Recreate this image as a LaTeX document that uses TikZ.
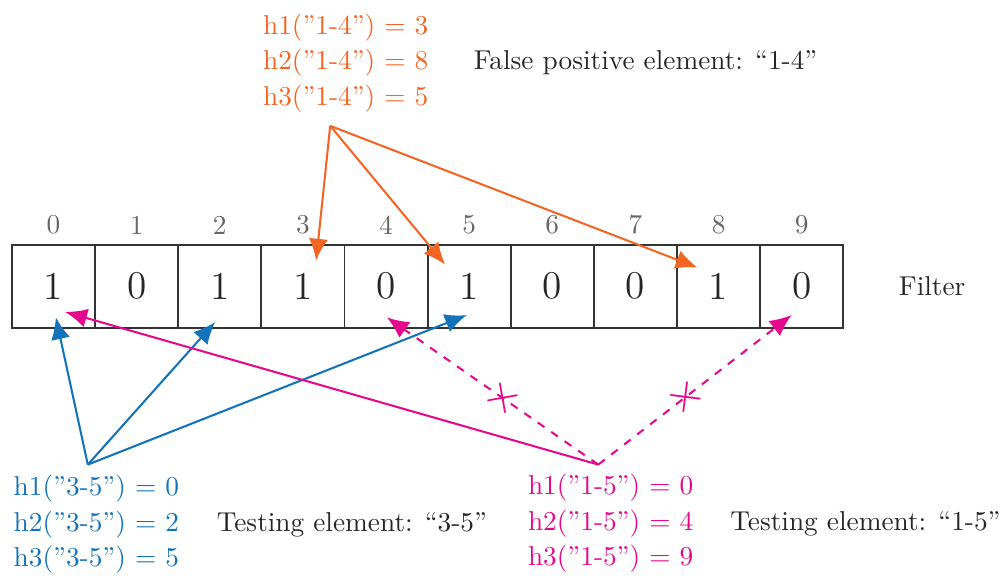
\documentclass[tikz,border=0pt]{standalone}
\usepackage{amsmath}
\usepackage{tikz}
\usetikzlibrary{calc,arrows.meta,positioning}

\definecolor{hashorange}{RGB}{242,101,34}
\definecolor{hashblue}{RGB}{18,114,186}
\definecolor{hashpink}{RGB}{230,8,140}

\begin{document}
\begin{tikzpicture}[
  cell/.style={draw=black!80, line width=0.7pt, minimum size=1.07cm, inner sep=0pt, font=\Large, text=black!85},
  index/.style={text=black!60},
  note/.style={text=black!85},
  hashes/.style={align=center},
  hasharrow/.style={-{Latex[length=8pt,width=7pt]}, line width=0.75pt},
  miss/.style={hasharrow, dashed}
]
\useasboundingbox (0,0) rectangle (12.91,7.41);

% the filter
\foreach \v [count=\i from 0] in {1,0,1,1,0,1,0,0,1,0} {
  \node[cell] (c\i) at (0.689+1.07*\i, 3.725) {\v};
  \node[index, above=0pt of c\i] (i\i) {\i};
}
\node[note, right=0.58cm of c9] (filter) {Filter};

% hash values
\node[hashes, text=hashorange] (h14) at (4.45,6.60)
  {h1(''1-4'') $=$ 3\\[1pt] h2(''1-4'') $=$ 8\\[1pt] h3(''1-4'') $=$ 5};
\node[note] (fp) at (8.31,6.60) {False positive element: ``1-4''};

\node[hashes, text=hashblue] (h35) at (1.24,0.66)
  {h1(''3-5'') $=$ 0\\[1pt] h2(''3-5'') $=$ 2\\[1pt] h3(''3-5'') $=$ 5};
\node[note] (t35) at (4.53,0.66) {Testing element: ``3-5''};

\node[hashes, text=hashpink] (h15) at (7.86,0.67)
  {h1(''1-5'') $=$ 0\\[1pt] h2(''1-5'') $=$ 4\\[1pt] h3(''1-5'') $=$ 9};
\node[note] (t15) at (11.14,0.67) {Testing element: ``1-5''};

% arrow ends
\coordinate (o) at (4.25,5.79);
\coordinate (b) at (1.13,1.43);
\coordinate (p) at (7.70,1.43);
\coordinate (o3) at ([shift={(0.17,0.33)}]c3.center);
\coordinate (o5) at ([shift={(-0.31,0.28)}]c5.center);
\coordinate (o8) at ([shift={(-0.27,0.24)}]c8.center);
\coordinate (b0) at ([shift={(0.03,-0.40)}]c0.center);
\coordinate (b2) at ([shift={(-0.06,-0.46)}]c2.center);
\coordinate (b5) at ([shift={(-0.03,-0.37)}]c5.center);
\coordinate (p0) at ([shift={(0.15,-0.33)}]c0.center);
\coordinate (p4) at ([shift={(0.01,-0.40)}]c4.center);
\coordinate (p9) at ([shift={(-0.13,-0.37)}]c9.center);

\draw[hasharrow, hashorange] (o) -- (o3);
\draw[hasharrow, hashorange] (o) -- (o5);
\draw[hasharrow, hashorange] (o) -- (o8);

\draw[hasharrow, hashblue] (b) -- (b0);
\draw[hasharrow, hashblue] (b) -- (b2);
\draw[hasharrow, hashblue] (b) -- (b5);

\draw[hasharrow, hashpink] (p) -- (p0);
\draw[miss, hashpink] (p) -- node[pos=0.45, sloped, scale=1.7] {$\times$} (p4);
\draw[miss, hashpink] (p) -- node[pos=0.45, sloped, scale=1.7] {$\times$} (p9);
\end{tikzpicture}
\end{document}
